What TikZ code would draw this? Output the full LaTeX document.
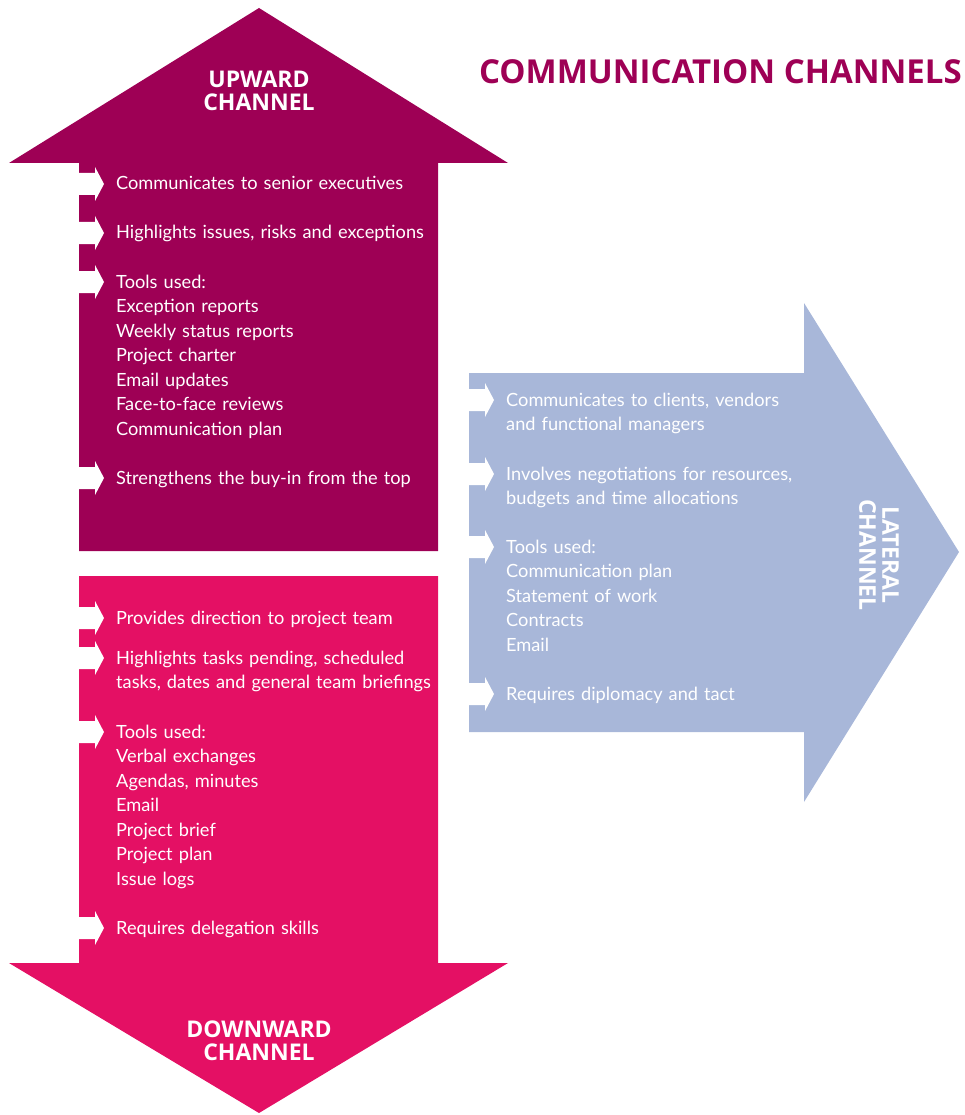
\documentclass[tikz,border=0pt]{standalone}
\usepackage{fontspec}
\setmainfont{Lato}
\newfontfamily\headfont{Open Sans}
\definecolor{upcol}{RGB}{158,0,85}
\definecolor{downcol}{RGB}{228,16,100}
\definecolor{latcol}{RGB}{168,183,217}

\begin{document}
\begin{tikzpicture}[
		x=1pt, y=-1pt,
		txt/.style={
			anchor=base west,
			inner sep=0pt,
			text=white,
			align=left,
			text width=340pt,
			font=\fontsize{18.2}{24.5}\selectfont
		},
		chan/.style={
			inner sep=0pt,
			text=white,
			align=center,
			font=\headfont\bfseries\fontsize{23}{23}\selectfont
		}
		]
		
		\useasboundingbox (0,0) rectangle (965,1115);
		
		% big arrows
		\fill[upcol] (259,8) -- (508,163) -- (438,163) -- (438,551) -- (79,551) -- (79,163) -- (9,163) -- cycle;
		\fill[downcol] (79,576) -- (438,576) -- (438,963) -- (508,963) -- (259,1113) -- (9,963) -- (79,963) -- cycle;
		\fill[latcol] (469,373) -- (804,373) -- (804,303) -- (959,552) -- (804,802) -- (804,732) -- (469,732) -- cycle;
		
		% white item pointers
		\foreach \x/\y in {79/184, 79/233, 79/282, 79/478, 79/618, 79/658, 79/732, 79/928, 469/400, 469/474, 469/547, 469/694}
		\fill[white] (\x,\y) ++(0,-11) -- ++(16,0) -- ++(0,-6) -- ++(9,17) -- ++(-9,17) -- ++(0,-6) -- ++(-16,0) -- cycle;
		
		%%%%%%%%%%
		
		\node[anchor=east, inner sep=0pt, text=upcol, font=\headfont\bfseries\fontsize{33}{33}\selectfont] (title) at (962,72) {COMMUNICATION CHANNELS};
		
		\node[chan] (upward) at (259,90.5) {UPWARD\\CHANNEL};
		\node[chan] (downward) at (259,1040.5) {DOWNWARD\\CHANNEL};
		\node[chan, rotate=-90] (lateral) at (879,555) {LATERAL\\CHANNEL};
		
		% upward
		\node[txt] (up1) at (116,190) {Communicates to senior executives};
		\node[txt] (up2) at (116,239) {Highlights issues, risks and exceptions};
		\node[txt] (up3) at (116,288) {Tools used:\\
			Exception reports\\
			Weekly status reports\\
			Project charter\\
			Email updates\\
			Face-to-face reviews\\
			Communication plan};
		\node[txt] (up4) at (116,484) {Strengthens the buy-in from the top};
		
		% downward
		\node[txt] (down1) at (116,624) {Provides direction to project team};
		\node[txt] (down2) at (116,664) {Highlights tasks pending, scheduled\\
			tasks, dates and general team briefings};
		\node[txt] (down3) at (116,738) {Tools used:\\
			Verbal exchanges\\
			Agendas, minutes\\
			Email\\
			Project brief\\
			Project plan\\
			Issue logs};
		\node[txt] (down4) at (116,934) {Requires delegation skills};
		
		% lateral
		\node[txt] (lat1) at (506,406) {Communicates to clients, vendors\\
			and functional managers};
		\node[txt] (lat2) at (506,480) {Involves negotiations for resources,\\
			budgets and time allocations};
		\node[txt] (lat3) at (506,553) {Tools used:\\
			Communication plan\\
			Statement of work\\
			Contracts\\
			Email};
		\node[txt] (lat4) at (506,700) {Requires diplomacy and tact};
		
	\end{tikzpicture}
\end{document}
